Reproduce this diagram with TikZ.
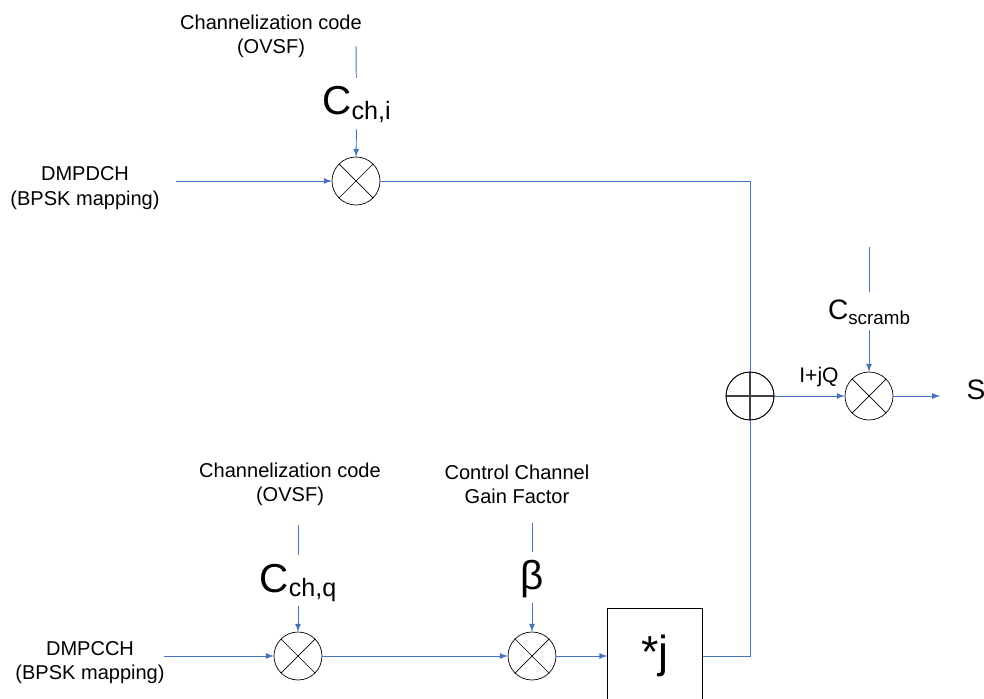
\documentclass[tikz,border=0pt]{standalone}
\usepackage{fontspec}
\setmainfont{Liberation Sans}

\newcommand{\codelabel}[5]{\raisebox{#5}[0pt][0pt]{{\fontsize{#3}{#3}\selectfont #1}\raisebox{-0.23em}{\fontsize{#4}{#4}\selectfont #2}}}

\tikzset{
    sig/.style={draw=sigblue, line width=0.55pt},
    mult/.style={circle, draw, inner sep=0pt, minimum size=0.96cm, path picture={
        \draw (path picture bounding box.north west) -- (path picture bounding box.south east);
        \draw (path picture bounding box.north east) -- (path picture bounding box.south west);}},
    adder/.style={circle, draw, inner sep=0pt, minimum size=0.96cm, path picture={
        \draw[line width=0.6pt, black!75] (path picture bounding box.north) -- (path picture bounding box.south);
        \draw[line width=0.6pt, black!75] (path picture bounding box.west) -- (path picture bounding box.east);}},
    txt/.style={font=\fontsize{11.4}{14}\selectfont, align=center, inner sep=0pt},
    code/.style={inner sep=0pt, minimum height=1.02cm},
}
\definecolor{sigblue}{HTML}{4472C4}

\begin{document}
\begin{tikzpicture}[x=0.02cm, y=-0.02cm]

    \useasboundingbox (0,0) rectangle (984,699);

    \draw(85,188) node[txt] (inA) {DMPDCH\\(BPSK mapping)};
    \draw(90,662.5) node[txt] (inB) {DMPCCH\\(BPSK mapping)};
    \draw(271,36.5) node[txt] (ovsfA) {Channelization code\\(OVSF)};
    \draw(290,484.5) node[txt] (ovsfB) {Channelization code\\(OVSF)};
    \draw(517,484.5) node[txt] (gain) {Control Channel\\Gain Factor};

    \draw(356.5,103.5) node[code] (cchi) {\codelabel{C}{ch,i}{23}{14.3}{-0.23cm}};
    \draw(298,580.5) node[code] (cchq) {\codelabel{C}{ch,q}{23}{14.3}{-0.23cm}};
    \draw(532,577.5) node[code] (beta) {\raisebox{-0.23cm}[0pt][0pt]{\fontsize{23}{23}\selectfont β}};
    \draw(869,311) node[code, minimum height=0.76cm] (cscr) {\codelabel{C}{scramb}{16}{10.7}{-0.18cm}};

    \draw(356,181) node[mult] (mulA) {};
    \draw(298,656) node[mult] (mulB) {};
    \draw(532,656) node[mult] (mulC) {};
    \draw(869,396) node[mult] (mulD) {};
    \draw(750,396) node[adder] (add) {};
    \draw(655,656) node[draw, inner sep=0pt, minimum width=1.9cm, minimum height=1.92cm, font=\fontsize{25.5}{25.5}\selectfont] (rot) {\raisebox{-0.07cm}{*j}};

    \draw(176,181) coordinate (startA);
    \draw(164,656) coordinate (startB);
    \draw(356,46) coordinate (topA);
    \draw(298,525) coordinate (topB);
    \draw(532,523) coordinate (topC);
    \draw(869,247) coordinate (topD);
    \draw(940,396) coordinate (outS);
    \draw(750,181) coordinate (cornerA);
    \draw(750,656) coordinate (cornerB);

    \draw(819,377) node[font=\fontsize{12}{12}\selectfont, inner sep=0pt] (iq) {I+jQ};
    \draw(976,390) node[font=\fontsize{16}{16}\selectfont, inner sep=0pt] (s) {S};

    \draw[sig, -latex] (startA) to (mulA);
    \draw[sig, -latex] (startB) to (mulB);
    \draw[sig] (topA) to (cchi);
    \draw[sig, -latex] (cchi) to (mulA);
    \draw[sig] (topB) to (cchq);
    \draw[sig, -latex] (cchq) to (mulB);
    \draw[sig] (topC) to (beta);
    \draw[sig, -latex] (beta) to (mulC);
    \draw[sig] (topD) to (cscr);
    \draw[sig, -latex] (cscr) to (mulD);
    \draw[sig, -latex] (mulB) to (mulC);
    \draw[sig, -latex] (mulC) to (rot);
    \draw[sig] (mulA) -- (cornerA) -- (add);
    \draw[sig] (rot) -- (cornerB) -- (add);
    \draw[sig, -latex] (add) to (mulD);
    \draw[sig, -latex] (mulD) to (outS);

    \draw(750,396) node[adder] {};

    \end{tikzpicture}
\end{document}
